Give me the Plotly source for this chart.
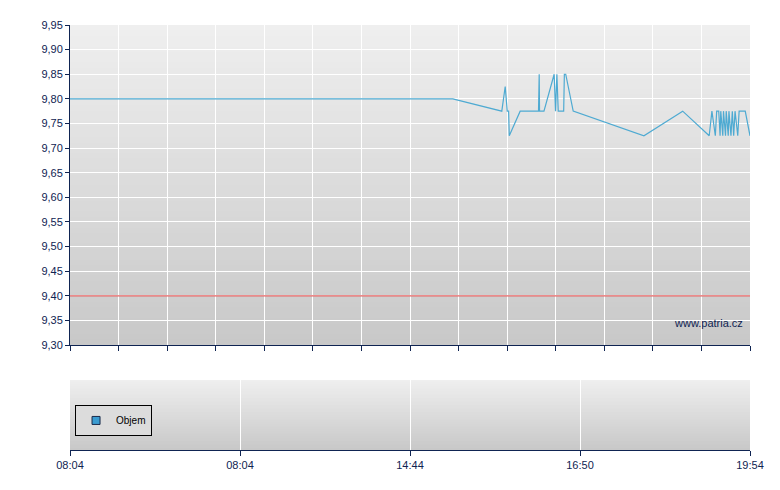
import plotly.graph_objects as go

# ---- data (x = position within session, 0..100) ----
price_x = [0, 56.3, 63.5, 64.0, 64.3, 64.5, 64.6, 66.2, 68.9, 69.0, 69.05, 69.7,
           71.2, 71.4, 71.6, 71.8, 72.6, 72.7, 72.9, 74.0, 84.4, 90.1, 94.0,
           94.4, 94.9, 95.1, 95.4, 95.6, 95.7, 96.0, 96.1, 96.4, 96.5, 96.8,
           96.9, 97.2, 97.4, 97.6, 97.8, 98.2, 98.4, 99.3, 100]
price_y = [9.80, 9.80, 9.775, 9.825, 9.775, 9.775, 9.725, 9.775, 9.775, 9.85, 9.775, 9.775,
           9.85, 9.775, 9.85, 9.775, 9.775, 9.85, 9.85, 9.775, 9.725, 9.775, 9.725,
           9.775, 9.725, 9.775, 9.775, 9.725, 9.775, 9.725, 9.775, 9.725, 9.775, 9.725,
           9.775, 9.725, 9.775, 9.725, 9.775, 9.725, 9.775, 9.775, 9.725]
ref_x = [0, 100]
ref_y = [9.40, 9.40]
volume_x = [None]
volume_y = [None]
bottom_tick_vals = [0, 25, 50, 75, 100]
bottom_tick_text = ["08:04", "08:04", "14:44", "16:50", "19:54"]

NAVY = "#0f2452"
FONT = "Liberation Sans, Arial, sans-serif"

fig = go.Figure()
fig.add_trace(go.Scatter(x=ref_x, y=ref_y, mode="lines", line=dict(color="#e66464", width=1.2),
                         showlegend=False, hoverinfo="skip", xaxis="x", yaxis="y"))
fig.add_trace(go.Scatter(x=price_x, y=price_y, mode="lines", line=dict(color="#4eaad2", width=1.2),
                         showlegend=False, xaxis="x", yaxis="y"))
# volume series (no volume traded) – shown in legend as "Objem"
fig.add_trace(go.Scatter(x=volume_x, y=volume_y, name="Objem", mode="markers",
                         marker=dict(symbol="square", size=8, color="#3a9bd0",
                                     line=dict(color="#1a2a4a", width=1)),
                         xaxis="x2", yaxis="y2", showlegend=True))

# gradient backgrounds via stacked shapes (each drawn from bottom up to a decreasing top)
shapes = []
N = 60
def grad(c0, c1, t):
    return "rgb(%d,%d,%d)" % tuple(round(a + (b - a) * t) for a, b in zip(c0, c1))
for xr, yr in [("x domain", "y domain"), ("x2 domain", "y2 domain")]:
    for i in range(N):
        shapes.append(dict(type="rect", xref=xr, yref=yr, x0=0, x1=1, y0=0, y1=1 - i / N,
                           fillcolor=grad((239, 239, 239), (200, 200, 200), (i + 0.5) / N),
                           line=dict(width=0), layer="below"))

fig.update_layout(
    width=772, height=482,
    margin=dict(l=62, r=30, t=17, b=40),
    paper_bgcolor="white", plot_bgcolor="rgba(0,0,0,0)",
    separators=", ",
    font=dict(family=FONT, size=11, color=NAVY),
    shapes=shapes,
    xaxis=dict(domain=[0, 1], anchor="y", range=[0, 100], tick0=0, dtick=100 / 14,
               showticklabels=False, ticks="outside", ticklen=5, tickcolor=NAVY,
               showline=True, linecolor=NAVY, linewidth=1, showgrid=True,
               gridcolor="white", gridwidth=1, zeroline=False, fixedrange=True),
    yaxis=dict(domain=[0.247, 1], anchor="x", range=[9.30, 9.95], tick0=9.30, dtick=0.05,
               tickformat=".2f", ticks="outside", ticklen=4, tickcolor=NAVY,
               showline=True, linecolor=NAVY, linewidth=1, showgrid=True,
               gridcolor="white", gridwidth=1, zeroline=False, fixedrange=True),
    xaxis2=dict(domain=[0, 1], anchor="y2", range=[0, 100], tickvals=bottom_tick_vals,
                ticktext=bottom_tick_text, ticks="outside", ticklen=5, tickcolor=NAVY,
                showline=True, linecolor=NAVY, linewidth=1, showgrid=True,
                gridcolor="white", gridwidth=1, zeroline=False, fixedrange=True),
    yaxis2=dict(domain=[0, 0.165], anchor="x2", range=[0, 1], visible=False,
                showgrid=False, fixedrange=True),
    legend=dict(x=0.0074, y=0.106, xanchor="left", yanchor="top", itemwidth=30,
                bgcolor="#dcdcdc", bordercolor="black", borderwidth=1,
                font=dict(family=FONT, size=10, color="black")),
    annotations=[dict(text="www.patria.cz", xref="paper", yref="paper",
                      x=0.9926, y=(450 - 323) / 425, xanchor="right", yanchor="middle",
                      showarrow=False, font=dict(family=FONT, size=11, color=NAVY))],
)

fig.write_html("out.html")
